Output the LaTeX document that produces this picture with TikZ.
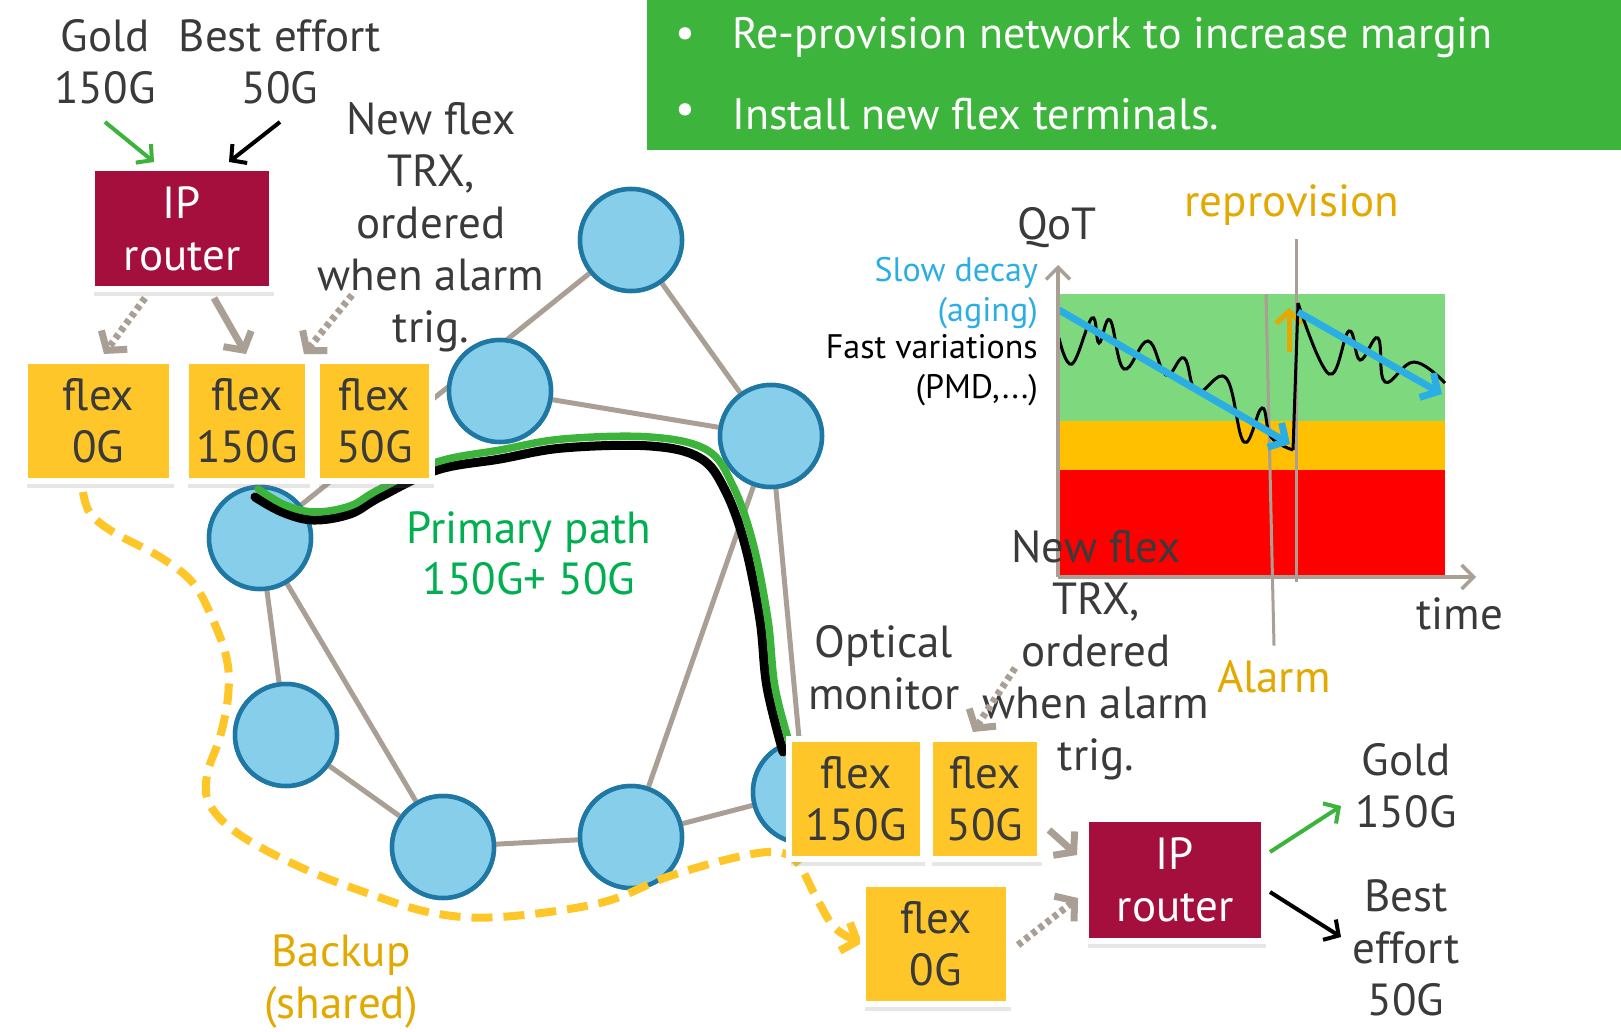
\documentclass[tikz,border=0pt]{standalone}
\usepackage{fontspec}
\setmainfont{PT Sans}
\usetikzlibrary{arrows.meta,shadows}

\definecolor{txt}{HTML}{3A3A3A}
\definecolor{link}{HTML}{A99F95}
\definecolor{nodefill}{HTML}{87CEEB}
\definecolor{nodeline}{HTML}{1F78A4}
\definecolor{flexy}{HTML}{FFC629}
\definecolor{router}{HTML}{A50F3E}
\definecolor{pgreen}{HTML}{00B050}
\definecolor{linegreen}{HTML}{3CB43C}
\definecolor{banner}{HTML}{3DB53D}
\definecolor{ochre}{HTML}{E3A900}
\definecolor{decay}{HTML}{2BAEE4}
\definecolor{qgreen}{HTML}{7ED87E}
\definecolor{qorange}{HTML}{FFC000}
\definecolor{qred}{HTML}{FF0000}

\newcommand\lblfont{\fontsize{45}{52}\selectfont}
\newcommand\bannerfont{\fontsize{44}{52}\selectfont}
\newcommand\smallfont{\fontsize{34}{40}\selectfont}

\tikzset{
  lbl/.style={font=\lblfont, text=txt, align=center, inner sep=0pt},
  box/.style={rectangle, draw=white, line width=6pt, inner sep=0pt,
    align=center, font=\lblfont, minimum height=120pt,
    drop shadow={opacity=0.2, shadow xshift=2pt, shadow yshift=-7pt}},
  flexbox/.style={box, fill=flexy, text=txt},
  routerbox/.style={box, fill=router, text=white},
  netnode/.style={circle, minimum size=102pt, inner sep=0pt,
    fill=nodefill, draw=nodeline, line width=4.5pt},
  edge/.style={link, line width=5pt},
  feed/.style={link, line width=7pt, -{Straight Barb[length=13pt,width=32pt]}},
  feeddot/.style={feed, dash pattern=on 5pt off 4pt},
  thinarrow/.style={line width=4pt, -{Straight Barb[length=11pt,width=24pt]}},
  axis/.style={link, line width=3.5pt, -{Straight Barb[length=12pt,width=24pt]}},
  decayarrow/.style={decay, line width=7pt, -{Straight Barb[length=13pt,width=28pt]}},
}

\begin{document}
\begin{tikzpicture}[x=1pt, y=-1pt]
\useasboundingbox (0,0) rectangle (1621,1032);

% banner with the two actions
\fill[banner] (647,0) rectangle (1621,150);
\node[font=\bannerfont, text=white, inner sep=0pt] (b1) at (685,38) {•};
\node[font=\bannerfont, text=white, inner sep=0pt] (b2) at (685,114) {•};
\node[font=\bannerfont, text=white, anchor=west, inner sep=0pt] (t1) at (732,38) {Re-provision network to increase margin};
\node[font=\bannerfont, text=white, anchor=west, inner sep=0pt] (t2) at (732,114) {Install new flex terminals.};

% QoT chart
\fill[qgreen] (1058,294) rectangle (1445,421);
\fill[qorange] (1058,421) rectangle (1445,470);
\fill[qred] (1058,470) rectangle (1445,577);
\node[lbl] (qot) at (1057,228) {QoT};
\node[lbl] (time) at (1460,614) {time};
\node[lbl, text=ochre] (repro) at (1292,205) {reprovision};
\node[lbl, text=ochre] (alarm) at (1274,677) {Alarm};
\node[font=\smallfont, text=decay, align=right, inner sep=0pt, anchor=east] (slow) at (1038,293) {Slow decay\\(aging)};
\node[font=\smallfont, text=black, align=right, inner sep=0pt, anchor=east] (fast) at (1038,370) {Fast variations\\(PMD,...)};
\coordinate (alarmtop) at (1266,294);
\coordinate (reprotop) at (1296,239);
\coordinate (reprobot) at (1296,582);
\draw[link, line width=3pt] (alarmtop) -- ([yshift=15pt]alarm.north);
\draw[link, line width=3pt] (reprotop) -- (reprobot);
\draw[ochre, line width=5pt, -{Straight Barb[length=12pt,width=26pt]}] (1289,352) -- (1289,308);
\draw[black, line width=3pt] plot[smooth, tension=0.7] coordinates {(1059,338) (1072,364) (1092,318) (1099,343) (1110,320) (1124,369) (1148,341) (1166,375) (1184,358) (1197,392) (1226,378) (1244,442) (1262,408) (1271,437) (1293,450)};
\draw[black, line width=3pt] (1293,450) -- (1298,303);
\draw[black, line width=3pt] plot[smooth, tension=0.7] coordinates {(1298,303) (1329,374) (1349,331) (1360,360) (1378,338) (1385,382) (1414,362) (1445,383)};
\draw[decayarrow] (1059,310) -- (1290,444);
\draw[decayarrow] (1298,312) -- (1442,394);
\coordinate (origin) at (1058,577);
\coordinate (ytip) at (1058,265);
\coordinate (xtip) at (1476,577);
\draw[axis] (origin) -- (ytip);
\draw[axis] (origin) -- (xtip);

% network nodes and links
\node[netnode] (n1) at (631,240) {};
\node[netnode] (n2) at (500,391) {};
\node[netnode] (n3) at (771,436) {};
\node[netnode] (n4) at (260,538) {};
\node[netnode] (n5) at (286,735) {};
\node[netnode] (n6) at (443,847) {};
\node[netnode] (n7) at (631,837) {};
\node[netnode] (n8) at (804,792) {};
\draw[edge] (n1.center) -- (n4.center);
\draw[edge] (n1.center) -- (n3.center);
\draw[edge] (n2.center) -- (n3.center);
\draw[edge] (n4.center) -- (n5.center);
\draw[edge] (n4.center) -- (n6.center);
\draw[edge] (n5.center) -- (n6.center);
\draw[edge] (n6.center) -- (n7.center);
\draw[edge] (n7.center) -- (n3.center);
\draw[edge] (n7.center) -- (n8.center);
\draw[edge] (n3.center) -- (n8.center);
% nodes painted again over the links
\foreach \n in {n1,n2,n3,n4,n5,n6,n7,n8}
  \draw[fill=nodefill, draw=nodeline, line width=4.5pt] (\n) circle[radius=51pt];

% primary path
\draw[black, line width=9pt, line cap=round] plot[smooth, tension=0.6] coordinates {(255,497) (282,512) (313,520) (350,514) (380,497) (437,470) (500,459) (563,448) (650,446) (700,458) (725,490) (745,545) (760,620) (767,687) (783,752)};
\draw[linegreen, line width=7.5pt, line cap=round] plot[smooth, tension=0.6] coordinates {(258,489) (285,505) (315,512) (350,506) (378,490) (437,462) (500,450) (563,439) (650,437) (707,450) (733,486) (753,543) (768,620) (775,687) (790,745)};
\node[font=\fontsize{45}{51}\selectfont, text=pgreen, align=center, inner sep=0pt] (prim) at (529,553) {Primary path\\150G+ 50G};

% backup path
\draw[flexy, line width=8pt, dash pattern=on 21pt off 11pt, -{Straight Barb[length=13pt,width=30pt]}]
  plot[smooth, tension=0.6] coordinates {(83,492) (90,513) (113,532) (160,557) (193,583) (213,620) (227,660) (228,697) (220,737) (207,775) (210,805) (240,835) (300,867) (367,893) (433,913) (500,917) (600,903) (667,877) (733,858) (775,852) (797,862) (815,895) (835,928) (862,943)};
\node[lbl, text=ochre] (backup) at (341,982) {Backup\\(shared)};

% head end
\node[lbl] (gold1) at (105,62) {Gold\\150G};
\node[lbl] (best1) at (280,62) {Best effort\\50G};
\node[routerbox, minimum width=180pt, minimum height=121pt] (r1) at (182,228.5) {IP\\router};
\node[flexbox, minimum width=147pt] (f0) at (98.5,421) {flex\\0G};
\node[flexbox, minimum width=122pt] (f1) at (247,421) {flex\\150G};
\node[flexbox, minimum width=115pt] (f2) at (374.5,421) {flex\\50G};
\node[lbl] (trx1) at (431,227.5) {New flex\\TRX,\\ordered\\when alarm\\trig.};
\draw[thinarrow, linegreen] ([yshift=-60pt]gold1.center) -- ([xshift=-28pt,yshift=3pt]r1.north);
\draw[thinarrow, black] ([yshift=-60pt]best1.center) -- ([xshift=47pt,yshift=3pt]r1.north);
\draw[feeddot] ([xshift=-37pt,yshift=-6pt]r1.south) -- ([xshift=5.5pt,yshift=4pt]f0.north);
\draw[feed] ([xshift=32pt,yshift=-6pt]r1.south) -- ([xshift=-1pt,yshift=4pt]f1.north);
\draw[feeddot] ([xshift=-79pt,yshift=-67.5pt]trx1.center) -- ([xshift=-10pt,yshift=4pt]f2.north west);

% tail end
\node[lbl] (optmon) at (884,668) {Optical\\monitor};
\node[flexbox, minimum width=134pt] (f1b) at (856,799) {flex\\150G};
\node[flexbox, minimum width=110pt] (f2b) at (985,799) {flex\\50G};
\node[flexbox, minimum width=146pt] (f0b) at (936,944) {flex\\0G};
\node[routerbox, minimum width=178pt, minimum height=122pt] (r2) at (1175,880) {IP\\router};
\node[lbl] (gold2) at (1406,786) {Gold\\150G};
\node[lbl] (best2) at (1406,948) {Best\\effort\\50G};
\node[lbl] (trx2) at (1096,655.5) {New flex\\TRX,\\ordered\\when alarm\\trig.};
\draw[feed] ([xshift=6pt,yshift=-31pt]f2b.east) -- ([xshift=-6pt,yshift=25pt]r2.west);
\draw[feeddot] ([xshift=6pt,yshift=-1pt]f0b.east) -- ([xshift=-5pt,yshift=-18pt]r2.west);
\draw[thinarrow, linegreen] ([xshift=3pt,yshift=28pt]r2.east) -- ([xshift=-65pt,yshift=-20pt]gold2.center);
\draw[thinarrow, black] ([xshift=3pt,yshift=-12pt]r2.east) -- ([xshift=-65pt,yshift=11pt]best2.center);
\draw[feeddot] ([xshift=-81pt,yshift=-12.5pt]trx2.center) -- ([xshift=-12pt,yshift=4pt]f2b.north);
\end{tikzpicture}
\end{document}
